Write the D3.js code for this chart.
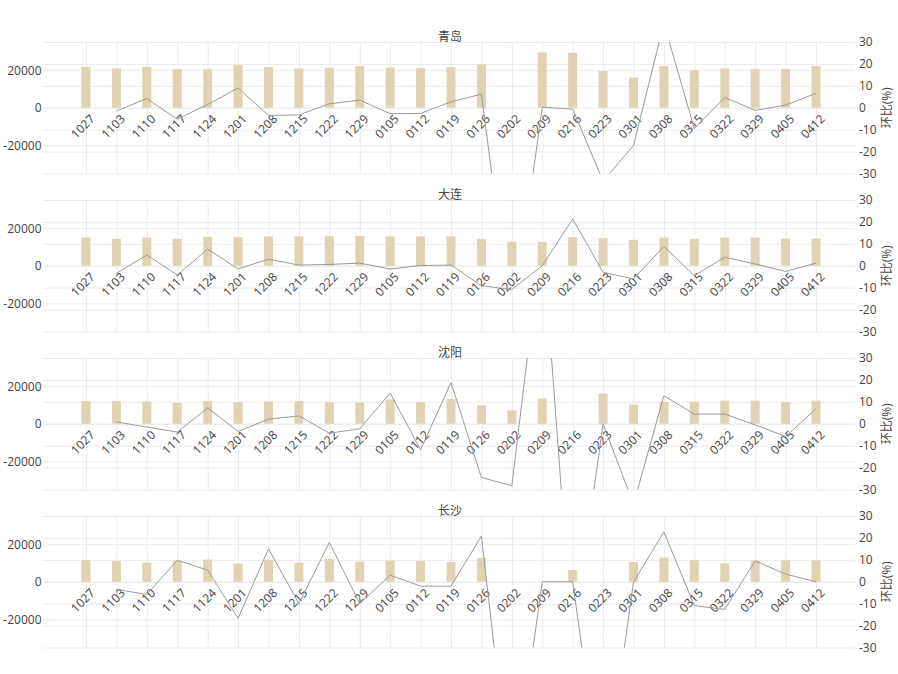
<!DOCTYPE html>
<html>
<head>
<meta charset="utf-8">
<script src="https://cdn.jsdelivr.net/npm/d3@7/dist/d3.min.js"></script>
<style>
  body { margin: 0; background: #fff; }
  svg { display: block; }
  text { font-family: "Open Sans", "Noto Sans CJK SC", sans-serif; }
</style>
</head>
<body>
<svg id="chart" width="898" height="674"></svg>
<script>
// Weekly volume (bars, left axis) and week-over-week change in % (line, right axis)
const weeks = ['1027','1103','1110','1117','1124','1201','1208','1215','1222','1229',
               '0105','0112','0119','0126','0202','0209','0216','0223','0301','0308',
               '0315','0322','0329','0405','0412'];

const cities = ['青岛', '大连', '沈阳', '长沙'];

const volQingdao  = [21800, 20900, 21800, 20500, 20500, 22700, 21600, 20900, 21300, 22200,
                     21400, 21100, 21600, 23000, 0, 29400, 29200, 19500, 16000, 22200,
                     20000, 20900, 20500, 20600, 22200];
const chgQingdao  = [null, -1.5, 4.2, -5.2, 1.5, 9.0, -3.5, -3.3, 1.8, 3.5,
                     -2.7, -2.6, 2.7, 6.2, -100, 0.2, -0.6, -33.5, -17.2, 38.5,
                     -9.5, 4.7, -1.2, 1.2, 6.6];

const volDalian   = [15000, 14300, 15000, 14300, 15400, 15200, 15600, 15600, 15700, 15900,
                     15600, 15600, 15600, 14200, 12700, 12600, 15200, 14700, 13800, 15000,
                     14200, 14900, 15000, 14400, 14500];
const chgDalian   = [null, -3.5, 4.9, -4.2, 7.6, -1.4, 3.0, 0.3, 0.6, 1.2,
                     -1.5, 0.1, 0.3, -9.1, -10.8, 0.0, 21.3, -3.0, -6.0, 8.8,
                     -4.5, 3.9, 0.8, -2.6, 1.2];

const volShenyang = [12000, 12000, 11800, 11100, 12100, 11400, 11800, 12100, 11600, 11300,
                     12900, 11400, 13200, 9800, 7100, 13400, 0, 16100, 10200, 11600,
                     11800, 12300, 12300, 11600, 12300];
const chgShenyang = [null, 0.8, -1.5, -3.8, 7.2, -3.5, 2.1, 3.6, -4.3, -2.3,
                     14.0, -11.9, 18.8, -24.5, -28.3, 87.0, -100, 0.0, -36.7, 12.8,
                     4.4, 4.4, -0.5, -5.8, 6.8];

const volChangsha = [11600, 11100, 10200, 11300, 11800, 9800, 11600, 10200, 12100, 10700,
                     11300, 11100, 10500, 12700, 0, 0, 6200, 0, 10500, 12900,
                     11600, 9800, 11300, 11400, 11400];
const chgChangsha = [null, -3.5, -5.8, 9.8, 5.3, -16.7, 15.0, -10.0, 18.0, -10.0,
                     3.0, -2.0, -2.0, 20.8, -100, 0.0, 0.0, -100, 0.0, 22.7,
                     -10.9, -12.6, 9.5, 3.5, 0.0];

const volumes = [volQingdao, volDalian, volShenyang, volChangsha];
const changes = [chgQingdao, chgDalian, chgShenyang, chgChangsha];

const volDomain = [-35000, 35000];
const volTicks  = [-20000, 0, 20000];
const chgDomain = [-30, 30];
const chgTicks  = [-30, -20, -10, 0, 10, 20, 30];
const chgTitle  = '环比(%)';

// ---- layout ----
const plotLeft = 43.5, plotRight = 855;
const panelH = 131.5, firstTop = 42, panelStep = 158;
const barW = 9;
const gridColor = '#ebebeb';
const textColor = '#444';
const barColor = '#e0d3b3';
const lineColor = '#9a9a9a';

const svg = d3.select('#chart');
const x = d3.scalePoint().domain(weeks).range([86, 816]);

cities.forEach((city, i) => {
  const top = firstTop + i * panelStep;
  const bottom = top + panelH;
  const yL = d3.scaleLinear().domain(volDomain).range([bottom, top]);
  const yR = d3.scaleLinear().domain(chgDomain).range([bottom, top]);
  const g = svg.append('g');

  const clipId = 'clip' + i;
  svg.append('clipPath').attr('id', clipId)
    .append('rect').attr('x', plotLeft).attr('y', top)
    .attr('width', plotRight - plotLeft).attr('height', panelH);

  // vertical gridlines at each week
  g.append('g').attr('transform', `translate(0,${bottom})`)
    .call(d3.axisBottom(x).tickSize(-panelH).tickFormat(''))
    .call(s => { s.select('.domain').remove(); s.selectAll('line').attr('stroke', gridColor); });

  // left axis: volume
  g.append('g').attr('transform', `translate(${plotLeft},0)`)
    .call(d3.axisLeft(yL).tickValues(volTicks).tickSize(-(plotRight - plotLeft))
      .tickPadding(2).tickFormat(d => String(d)))
    .call(s => {
      s.select('.domain').remove();
      s.selectAll('line').attr('stroke', gridColor);
      s.selectAll('text').attr('fill', textColor).style('font-size', '12px');
    });

  // right axis: change %
  g.append('g').attr('transform', `translate(${plotRight},0)`)
    .call(d3.axisRight(yR).tickValues(chgTicks).tickSize(-(plotRight - plotLeft))
      .tickPadding(4).tickFormat(d => String(d)))
    .call(s => {
      s.select('.domain').remove();
      s.selectAll('line').attr('stroke', gridColor);
      s.selectAll('text').attr('fill', textColor).style('font-size', '12px');
    });

  // bars
  const vols = volumes[i];
  g.append('g').selectAll('rect')
    .data(weeks.map((w, k) => ({ w, v: vols[k] })).filter(d => d.v > 0))
    .join('rect')
    .attr('x', d => x(d.w) - barW / 2)
    .attr('width', barW)
    .attr('y', d => yL(d.v))
    .attr('height', d => yL(0) - yL(d.v))
    .attr('fill', barColor);

  // week labels along the zero line
  const zeroY = yL(0);
  g.append('g').attr('transform', `translate(0,${zeroY})`)
    .call(d3.axisBottom(x).tickSize(0))
    .call(s => {
      s.select('.domain').remove();
      s.selectAll('text')
        .attr('x', 0).attr('y', 0).attr('dy', 0)
        .attr('text-anchor', 'end')
        .attr('transform', 'translate(9,12) rotate(-45)')
        .attr('fill', textColor)
        .style('font-size', '12px');
    });

  // change line
  const chg = changes[i];
  const line = d3.line()
    .defined(d => d.v != null)
    .x(d => x(d.w))
    .y(d => yR(d.v));
  g.append('path')
    .datum(weeks.map((w, k) => ({ w, v: chg[k] })))
    .attr('clip-path', `url(#${clipId})`)
    .attr('d', line)
    .attr('fill', 'none')
    .attr('stroke', lineColor)
    .attr('stroke-width', 1);

  // panel title
  g.append('text')
    .attr('x', 450).attr('y', top - 5.5)
    .attr('text-anchor', 'middle').attr('dominant-baseline', 'central')
    .attr('fill', textColor).style('font-size', '12px')
    .text(city);

  // right axis title
  g.append('text')
    .attr('transform', `translate(886,${(top + bottom) / 2}) rotate(-90)`)
    .attr('text-anchor', 'middle').attr('dominant-baseline', 'central')
    .attr('fill', textColor).style('font-size', '12px')
    .text(chgTitle);
});
</script>
</body>
</html>
